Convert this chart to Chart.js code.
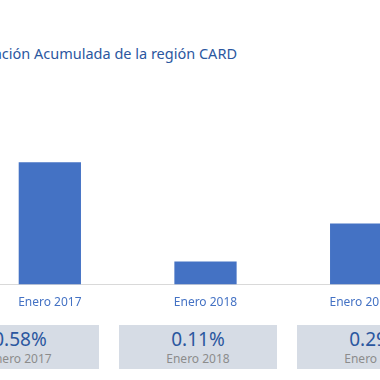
<!DOCTYPE html>
<html>
<head>
<meta charset="utf-8">
<script src="https://cdn.jsdelivr.net/npm/chart.js@4/dist/chart.umd.min.js"></script>
<style>
  html, body { margin: 0; padding: 0; background: #fff; }
  body { width: 380px; height: 380px; position: relative; overflow: hidden; font-family: "Noto Sans", sans-serif; }
  #title { position: absolute; right: 143px; top: 43px; white-space: nowrap; font-size: 14.5px; color: #2b579f; }
  #chart { position: absolute; left: -28px; top: 116px; }
  .card { position: absolute; top: 325px; width: 158px; height: 44px; background: #d6dce5; text-align: center; }
  .card .val { font-size: 19px; color: #2b579f; line-height: 22px; margin-top: 3px; }
  .card .lbl { font-size: 12px; color: #8c8c8c; line-height: 16px; margin-top: 1px; }
</style>
</head>
<body>
<div id="title">Inflación Acumulada de la región CARD</div>
<canvas id="chart" width="467" height="205"></canvas>
<div id="cards"></div>
<script>
const categories = ["Enero 2017", "Enero 2018", "Enero 2019"];
const inflation = [0.58, 0.11, 0.29];

new Chart(document.getElementById("chart").getContext("2d"), {
  type: "bar",
  data: {
    labels: categories,
    datasets: [
      {
        label: "Inflación Acumulada",
        data: inflation,
        backgroundColor: "#4472c4",
        barPercentage: 0.5,
        categoryPercentage: 0.8
      }
    ]
  },
  options: {
    responsive: false,
    animation: false,
    plugins: { legend: { display: false }, tooltip: { enabled: false } },
    scales: {
      x: {
        grid: { display: false, drawTicks: false },
        border: { display: true, color: "#d9d9d9", width: 1 },
        ticks: { color: "#4472c4", padding: 11, font: { family: "Noto Sans", size: 12 } }
      },
      y: { display: false, min: 0, max: 0.8 }
    }
  }
});

// summary cards under the chart
const cards = document.getElementById("cards");
categories.forEach((c, i) => {
  const d = document.createElement("div");
  d.className = "card";
  d.style.left = (-59 + i * 178) + "px";
  d.innerHTML = '<div class="val">' + inflation[i].toFixed(2) + '%</div><div class="lbl">' + c + '</div>';
  cards.appendChild(d);
});
</script>
</body>
</html>
